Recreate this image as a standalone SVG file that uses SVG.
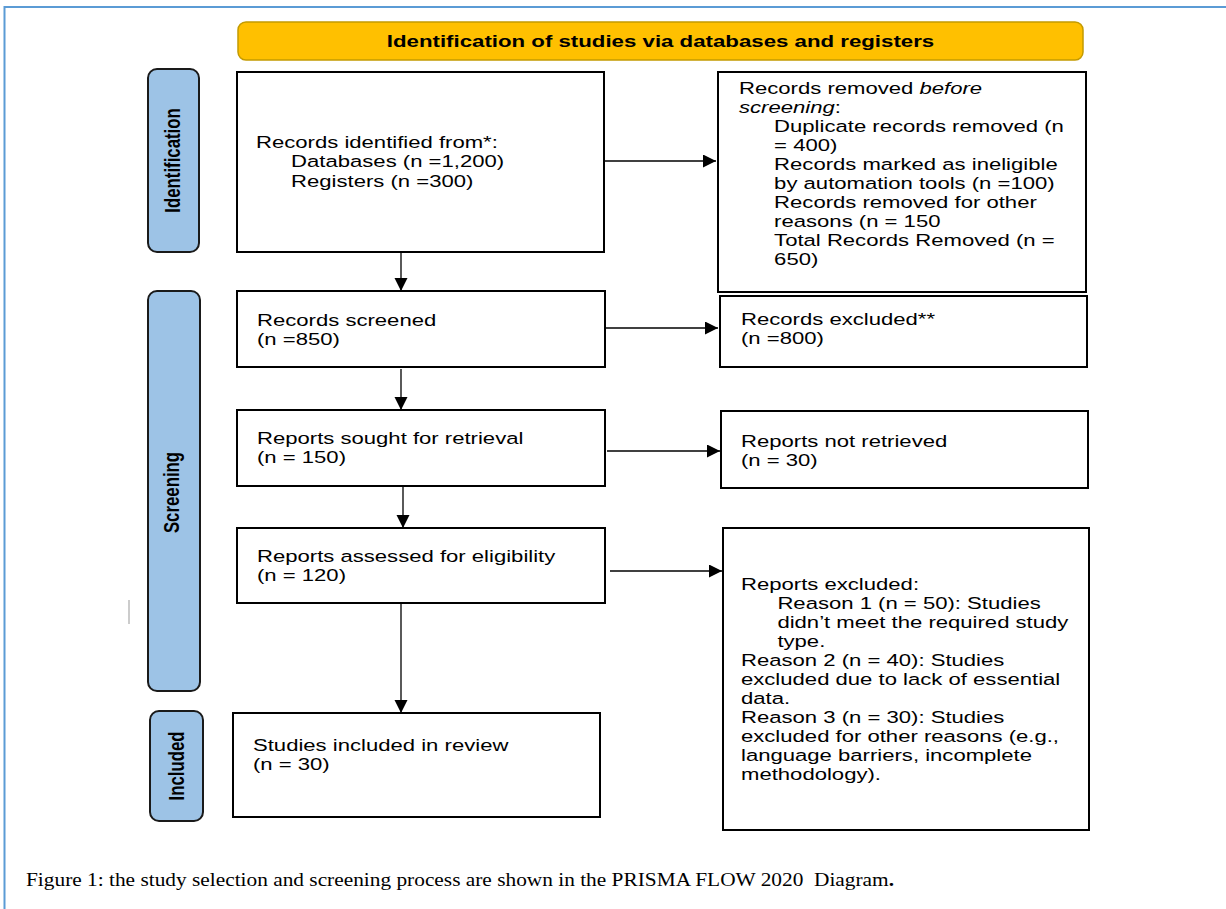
<svg xmlns="http://www.w3.org/2000/svg" width="1226" height="909" viewBox="0 0 1226 909">
<defs>
<style>
.box{fill:#fff;stroke:#000;stroke-width:2}
.side{fill:#9DC3E6;stroke:#1a1a1a;stroke-width:2}
.hdr{fill:#FFC000;stroke:#C39A00;stroke-width:1.5}
.t{font-family:"Liberation Sans",Arial,sans-serif;font-size:17px;fill:#000}
.b{font-family:"Liberation Sans",Arial,sans-serif;font-size:16.8px;font-weight:bold;fill:#000}
.cap{font-family:"Liberation Serif","Times New Roman",serif;font-size:18.5px;fill:#000}
.con{fill:none;stroke:#000;stroke-width:1.3}
</style>
<marker id="ah" markerUnits="userSpaceOnUse" markerWidth="14" markerHeight="14" refX="13" refY="6.5" orient="auto">
<path d="M0,0 L13,6.5 L0,13 z" fill="#000"/>
</marker>
</defs>
<rect width="1226" height="909" fill="#fff"/>
<g id="frame">
<path d="M4.5,909 V7 H1226" fill="none" stroke="#5B9BD5" stroke-width="2"/>
<line x1="129" y1="600" x2="129" y2="624" stroke="#bbb" stroke-width="1.5"/>
</g>
<g id="header">
<rect class="hdr" x="238" y="22" width="845" height="38" rx="8"/>
<text class="b" text-anchor="middle" transform="translate(660.5,46.5) scale(1.324,1)">Identification of studies via databases and registers</text>
</g>
<g id="label-identification">
<rect class="side" x="148" y="69" width="51" height="183" rx="9"/>
<text class="b" text-anchor="middle" transform="translate(180,160.5) scale(1.3,1) rotate(-90)">Identification</text>
</g>
<g id="label-screening">
<rect class="side" x="148" y="291" width="52" height="400" rx="9"/>
<text class="b" text-anchor="middle" transform="translate(179,492.5) scale(1.3,1) rotate(-90)">Screening</text>
</g>
<g id="label-included">
<rect class="side" x="150" y="711" width="53" height="110" rx="9"/>
<text class="b" text-anchor="middle" transform="translate(184,766) scale(1.3,1) rotate(-90)">Included</text>
</g>
<g id="records-identified">
<rect class="box" x="237" y="72" width="367" height="180"/>
<text class="t" transform="translate(256,0) scale(1.3,1)"><tspan x="0" y="148">Records identified from*:</tspan><tspan x="27" y="167.5">Databases (n =1,200)</tspan><tspan x="27" y="187">Registers (n =300)</tspan></text>
</g>
<g id="records-removed">
<rect class="box" x="718" y="72" width="368" height="220"/>
<text class="t" transform="translate(739,0) scale(1.3,1)"><tspan x="0" y="94">Records removed <tspan font-style="italic">before</tspan></tspan><tspan x="0" y="113"><tspan font-style="italic">screening</tspan>:</tspan><tspan x="27" y="132">Duplicate records removed (n</tspan><tspan x="27" y="151">= 400)</tspan><tspan x="27" y="170">Records marked as ineligible</tspan><tspan x="27" y="189">by automation tools (n =100)</tspan><tspan x="27" y="208">Records removed for other</tspan><tspan x="27" y="227">reasons (n = 150</tspan><tspan x="27" y="246">Total Records Removed (n =</tspan><tspan x="27" y="265">650)</tspan></text>
</g>
<g id="records-screened">
<rect class="box" x="237" y="291" width="368" height="76"/>
<text class="t" transform="translate(257,0) scale(1.3,1)"><tspan x="0" y="326">Records screened</tspan><tspan x="0" y="345">(n =850)</tspan></text>
</g>
<g id="records-excluded">
<rect class="box" x="720" y="296" width="367" height="71"/>
<text class="t" transform="translate(741,0) scale(1.3,1)"><tspan x="0" y="325">Records excluded**</tspan><tspan x="0" y="344">(n =800)</tspan></text>
</g>
<g id="reports-sought">
<rect class="box" x="237" y="410" width="368" height="76"/>
<text class="t" transform="translate(257,0) scale(1.3,1)"><tspan x="0" y="444">Reports sought for retrieval</tspan><tspan x="0" y="463">(n = 150)</tspan></text>
</g>
<g id="reports-not-retrieved">
<rect class="box" x="721" y="411" width="367" height="77"/>
<text class="t" transform="translate(741,0) scale(1.3,1)"><tspan x="0" y="447">Reports not retrieved</tspan><tspan x="0" y="466">(n = 30)</tspan></text>
</g>
<g id="reports-assessed">
<rect class="box" x="237" y="528" width="368" height="75"/>
<text class="t" transform="translate(257,0) scale(1.3,1)"><tspan x="0" y="562">Reports assessed for eligibility</tspan><tspan x="0" y="581">(n = 120)</tspan></text>
</g>
<g id="reports-excluded">
<rect class="box" x="723" y="528" width="366" height="302"/>
<text class="t" transform="translate(741,0) scale(1.3,1)"><tspan x="0" y="590">Reports excluded:</tspan><tspan x="28" y="609">Reason 1 (n = 50): Studies</tspan><tspan x="28" y="628">didn’t meet the required study</tspan><tspan x="28" y="647">type.</tspan><tspan x="0" y="666">Reason 2 (n = 40): Studies</tspan><tspan x="0" y="685">excluded due to lack of essential</tspan><tspan x="0" y="704">data.</tspan><tspan x="0" y="723">Reason 3 (n = 30): Studies</tspan><tspan x="0" y="742">excluded for other reasons (e.g.,</tspan><tspan x="0" y="761">language barriers, incomplete</tspan><tspan x="0" y="780">methodology).</tspan></text>
</g>
<g id="studies-included">
<rect class="box" x="233" y="713" width="367" height="104"/>
<text class="t" transform="translate(253,0) scale(1.3,1)"><tspan x="0" y="751">Studies included in review</tspan><tspan x="0" y="770">(n = 30)</tspan></text>
</g>
<g id="connectors">
<path class="con" d="M401,252 V291" marker-end="url(#ah)"/>
<path class="con" d="M605,161 H716" marker-end="url(#ah)"/>
<path class="con" d="M606,328 H718" marker-end="url(#ah)"/>
<path class="con" d="M401,369 V410" marker-end="url(#ah)"/>
<path class="con" d="M607,451 H720" marker-end="url(#ah)"/>
<path class="con" d="M403,487 V528" marker-end="url(#ah)"/>
<path class="con" d="M610,571 H722" marker-end="url(#ah)"/>
<path class="con" d="M401,604 V713" marker-end="url(#ah)"/>
</g>
<g id="caption">
<text class="cap" x="26" y="886" textLength="868" lengthAdjust="spacingAndGlyphs" xml:space="preserve">Figure 1: the study selection and screening process are shown in the PRISMA FLOW 2020  Diagram<tspan font-weight="bold">.</tspan></text>
</g>
</svg>
